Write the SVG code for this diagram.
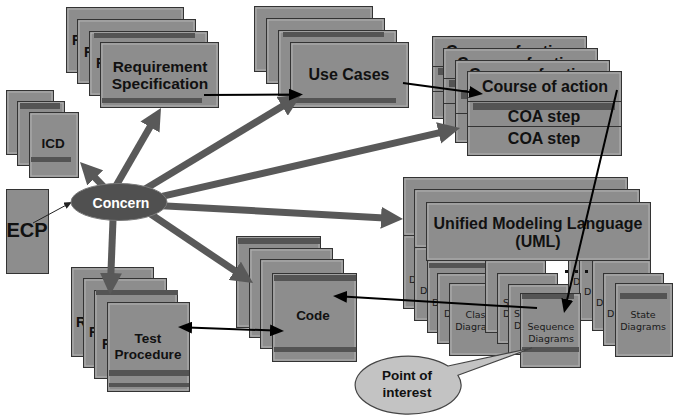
<svg xmlns="http://www.w3.org/2000/svg" width="673" height="416" viewBox="0 0 673 416">
<style>
.c{fill:#8d8d8d;stroke:#333;stroke-width:1}
.h{fill:none;stroke:#b3b3b3;stroke-width:1}
.b{fill:#545454}
.ln{stroke:#333;stroke-width:1}
.t{font-family:"Liberation Sans",Arial,sans-serif;font-weight:bold;fill:#111;text-anchor:middle}
.r{font-family:"Liberation Sans",Arial,sans-serif;font-weight:bold;font-size:14px;fill:#111}
.s{font-family:"DejaVu Sans",Verdana,sans-serif;font-size:9.5px;fill:#1a1a1a;text-anchor:middle}
.d{font-family:"DejaVu Sans",Verdana,sans-serif;font-size:9.5px;fill:#1a1a1a}
.thick{stroke:#595959;stroke-width:7;fill:none}
.thin{stroke:#000;stroke-width:2;fill:none}
.dot{fill:#111}
</style>
<defs>
<marker id="ah" markerUnits="userSpaceOnUse" markerWidth="22" markerHeight="22" viewBox="0 0 22 22" refX="8" refY="11" orient="auto"><path d="M0,0 L22,11 L0,22 z" fill="#595959"/></marker>
<marker id="sa" markerUnits="userSpaceOnUse" markerWidth="14" markerHeight="12" viewBox="0 0 14 12" refX="4" refY="6" orient="auto-start-reverse"><path d="M0,0 L14,6 L0,12 z" fill="#000"/></marker>
<marker id="sm" markerUnits="userSpaceOnUse" markerWidth="8" markerHeight="7" viewBox="0 0 8 7" refX="2" refY="3.5" orient="auto"><path d="M0,0 L8,3.5 L0,7 z" fill="#222"/></marker>
</defs>

<g id="requirement-specification">
<rect class="c" x="66.5" y="7.5" width="117" height="65"/><rect class="h" x="68" y="9" width="114" height="62"/><text class="r" x="72" y="45">R</text>
<rect class="c" x="77.5" y="19.5" width="118" height="64"/><rect class="h" x="79" y="21" width="115" height="61"/><text class="r" x="84" y="57">R</text>
<rect class="c" x="89.5" y="31.5" width="118" height="64"/><rect class="h" x="91" y="33" width="115" height="61"/><rect class="b" x="94" y="33" width="101" height="5"/><text class="r" x="96" y="68">R</text>
<rect class="c" x="100.5" y="42.5" width="118" height="65"/><rect class="h" x="102" y="44" width="115" height="62"/><rect class="b" x="102" y="98" width="100" height="5"/>
<text class="t" x="160" y="71.5" font-size="15.5">Requirement</text>
<text class="t" x="160" y="88.5" font-size="15.5">Specification</text>
</g>

<g id="use-cases">
<rect class="c" x="254.5" y="6.5" width="118" height="65"/><rect class="h" x="256" y="8" width="115" height="62"/>
<rect class="c" x="266.5" y="18.5" width="118" height="65"/><rect class="h" x="268" y="20" width="115" height="62"/>
<rect class="c" x="278.5" y="30.5" width="118" height="65"/><rect class="h" x="280" y="32" width="115" height="62"/><rect class="b" x="283" y="32" width="101" height="5"/>
<rect class="c" x="290.5" y="42.5" width="118" height="65"/><rect class="h" x="292" y="44" width="115" height="62"/><rect class="b" x="294" y="98" width="102" height="5"/>
<text class="t" x="349" y="80" font-size="16">Use Cases</text>
</g>

<g id="course-of-action">
<rect class="c" x="432.5" y="36.5" width="154" height="82"/><rect class="h" x="434" y="38" width="151" height="79"/>
<line class="ln" x1="433" y1="66.5" x2="586" y2="66.5"/><rect class="b" x="438" y="68" width="142" height="7"/><line class="ln" x1="433" y1="91.5" x2="586" y2="91.5"/>
<text class="t" x="509" y="56.5" font-size="16">Course of action</text>
<rect class="c" x="443.5" y="48.5" width="154" height="82"/><rect class="h" x="445" y="50" width="151" height="79"/>
<line class="ln" x1="444" y1="78.5" x2="597" y2="78.5"/><rect class="b" x="449" y="80" width="142" height="7"/><line class="ln" x1="444" y1="103.5" x2="597" y2="103.5"/>
<text class="t" x="520" y="68.5" font-size="16">Course of action</text>
<rect class="c" x="455.5" y="60.5" width="154" height="82"/><rect class="h" x="457" y="62" width="151" height="79"/>
<line class="ln" x1="456" y1="90.5" x2="609" y2="90.5"/><rect class="b" x="461" y="92" width="142" height="7"/><line class="ln" x1="456" y1="113.5" x2="609" y2="113.5"/>
<text class="t" x="532" y="80" font-size="16">Course of action</text>
<rect class="c" x="467.5" y="71.5" width="154" height="84"/><rect class="h" x="469" y="73" width="151" height="81"/>
<line class="ln" x1="468" y1="101.5" x2="621" y2="101.5"/><rect class="b" x="473" y="103" width="142" height="7"/><line class="ln" x1="468" y1="126.5" x2="621" y2="126.5"/>
<text class="t" x="545" y="92" font-size="16">Course of action</text>
<text class="t" x="544" y="122" font-size="16">COA step</text>
<text class="t" x="544" y="144" font-size="16">COA step</text>
</g>

<g id="icd">
<rect class="c" x="6.5" y="90.5" width="47" height="64"/><rect class="h" x="8" y="92" width="44" height="61"/>
<rect class="c" x="17.5" y="101.5" width="47" height="64"/><rect class="h" x="19" y="103" width="44" height="61"/><rect class="b" x="20" y="103" width="40" height="6"/>
<rect class="c" x="29.5" y="112.5" width="49" height="65"/><rect class="h" x="31" y="114" width="46" height="62"/><rect class="b" x="31" y="157" width="40" height="5"/>
<text class="t" x="53" y="148" font-size="13.5">ICD</text>
</g>

<g id="ecp">
<rect class="c" x="6.5" y="189.5" width="42" height="84"/>
<text class="t" x="27" y="237" font-size="20">ECP</text>
</g>

<g id="uml">
<rect class="c" x="403.5" y="177.5" width="224" height="58"/><rect class="h" x="405" y="179" width="221" height="55"/>
<rect class="c" x="403.5" y="235.5" width="61" height="73"/><rect class="h" x="405" y="237" width="58" height="70"/><text class="d" x="409" y="283">D</text>
<rect class="c" x="568.5" y="235.5" width="59" height="73"/><rect class="h" x="570" y="237" width="56" height="70"/><text class="d" x="573" y="285">D</text>
<rect class="c" x="414.5" y="189.5" width="225" height="58"/><rect class="h" x="416" y="191" width="222" height="55"/>
<rect class="c" x="414.5" y="247.5" width="61" height="73"/><rect class="h" x="416" y="249" width="58" height="70"/><text class="d" x="420" y="294">D</text>
<rect class="c" x="579.5" y="247.5" width="60" height="73"/><rect class="h" x="581" y="249" width="57" height="70"/><text class="d" x="584" y="295">D</text>
<rect class="dot" x="565" y="270" width="3" height="3"/><rect class="dot" x="575" y="270" width="3" height="3"/><rect class="dot" x="585" y="270" width="3" height="3"/>
<rect class="c" x="426.5" y="202.5" width="224" height="58"/><rect class="h" x="428" y="204" width="221" height="55"/>
<text class="t" x="538" y="229" font-size="16">Unified Modeling Language</text>
<text class="t" x="538" y="247" font-size="16">(UML)</text>
<rect class="c" x="427.5" y="260.5" width="61" height="72"/><rect class="h" x="429" y="262" width="58" height="69"/><rect class="b" x="429" y="263" width="56" height="5"/><text class="d" x="432" y="306">D</text>
<rect class="c" x="437.5" y="273.5" width="61" height="70"/><rect class="h" x="439" y="275" width="58" height="67"/><text class="d" x="444" y="317">D</text>
<rect class="c" x="449.5" y="283.5" width="61" height="72"/><rect class="h" x="451" y="285" width="58" height="69"/>
<text class="s" x="478" y="318">Class</text><text class="s" x="478" y="330">Diagrams</text>
<rect class="c" x="485.5" y="260.5" width="60" height="72"/><rect class="h" x="487" y="262" width="57" height="69"/>
<rect class="c" x="497.5" y="273.5" width="60" height="70"/><rect class="h" x="499" y="275" width="57" height="67"/><text class="d" x="503" y="306">S</text><text class="d" x="503" y="317">D</text>
<rect class="c" x="508.5" y="284.5" width="60" height="70"/><rect class="h" x="510" y="286" width="57" height="67"/><text class="d" x="514" y="317">S</text><text class="d" x="514" y="329">D</text>
<rect class="c" x="520.5" y="293.5" width="60" height="74"/><rect class="h" x="522" y="295" width="57" height="71"/><rect class="b" x="522" y="294" width="52" height="5"/><rect class="b" x="522" y="347" width="57" height="5"/>
<text class="s" x="551" y="330">Sequence</text><text class="s" x="551" y="342">Diagrams</text>
<rect class="c" x="592.5" y="260.5" width="58" height="70"/><rect class="h" x="594" y="262" width="55" height="67"/><text class="d" x="596" y="306">D</text>
<rect class="c" x="603.5" y="273.5" width="60" height="72"/><rect class="h" x="605" y="275" width="57" height="69"/><text class="d" x="607" y="317">D</text>
<rect class="c" x="615.5" y="283.5" width="57" height="73"/><rect class="h" x="617" y="285" width="54" height="70"/><rect class="b" x="620" y="293" width="47" height="6"/>
<text class="s" x="643" y="318">State</text><text class="s" x="643" y="330">Diagrams</text>
</g>

<g id="code">
<rect class="c" x="236.5" y="236.5" width="84" height="91"/><rect class="h" x="238" y="238" width="81" height="88"/><rect class="b" x="238" y="238" width="82" height="6"/>
<rect class="c" x="249.5" y="248.5" width="83" height="89"/><rect class="h" x="251" y="250" width="80" height="86"/>
<rect class="c" x="260.5" y="259.5" width="83" height="89"/><rect class="h" x="262" y="261" width="80" height="86"/>
<rect class="c" x="272.5" y="273.5" width="84" height="88"/><rect class="h" x="274" y="275" width="81" height="85"/><rect class="b" x="274" y="275" width="82" height="6"/><rect class="b" x="274" y="347" width="82" height="5"/>
<text class="t" x="313" y="320" font-size="13.5">Code</text>
</g>

<g id="test-procedure">
<rect class="c" x="71.5" y="267.5" width="82" height="89"/><rect class="h" x="73" y="269" width="79" height="86"/><text class="r" x="76" y="327">R</text>
<rect class="c" x="83.5" y="278.5" width="83" height="89"/><rect class="h" x="85" y="280" width="80" height="86"/><text class="r" x="89" y="337">R</text>
<rect class="c" x="94.5" y="290.5" width="83" height="88"/><rect class="h" x="96" y="292" width="80" height="85"/><rect class="b" x="96" y="290" width="82" height="5"/><text class="r" x="102" y="349">R</text>
<rect class="c" x="107.5" y="302.5" width="82" height="89"/><rect class="h" x="109" y="304" width="79" height="86"/><rect class="b" x="109" y="370" width="80" height="6"/><rect class="b" x="109" y="383" width="80" height="4"/>
<text class="t" x="148" y="343" font-size="13.5">Test</text>
<text class="t" x="148" y="359" font-size="13.5">Procedure</text>
</g>

<g id="point-of-interest">
<path d="M448,366 L532,348 L458,375.3 A53 29 0 1 1 448,366 Z" fill="#c3c3c3" stroke="#444" stroke-width="1.2"/>
<text class="t" x="407" y="380" font-size="13.5">Point of</text>
<text class="t" x="407" y="397" font-size="13.5">interest</text>
</g>

<g id="connectors">
<line class="thick" x1="108.9" y1="192.2" x2="89.7" y2="172.1" marker-end="url(#ah)"/>
<line class="thick" x1="112" y1="192.7" x2="154" y2="120.1" marker-end="url(#ah)"/>
<line class="thick" x1="141.4" y1="191.2" x2="289" y2="102.2" marker-end="url(#ah)"/>
<line class="thick" x1="154.3" y1="198.2" x2="446.4" y2="131.1" marker-end="url(#ah)"/>
<line class="thick" x1="157" y1="205.4" x2="389" y2="218.2" marker-end="url(#ah)"/>
<line class="thick" x1="143.7" y1="209.4" x2="241.4" y2="275.2" marker-end="url(#ah)"/>
<line class="thick" x1="113.4" y1="210" x2="110.6" y2="281" marker-end="url(#ah)"/>
<line class="thin" stroke-width="1.6" x1="204" y1="95" x2="293" y2="94.6" marker-end="url(#sa)"/>
<line class="thin" x1="403" y1="83" x2="473.1" y2="92.6" marker-end="url(#sa)"/>
<line class="thin" x1="617" y1="90" x2="566.3" y2="303.3" marker-end="url(#sa)"/>
<line class="thin" x1="537" y1="308" x2="343" y2="296.6" marker-end="url(#sa)"/>
<line class="thin" x1="188" y1="327.4" x2="274" y2="330.6" marker-start="url(#sa)" marker-end="url(#sa)"/>
<line stroke="#222" stroke-width="1" x1="33" y1="223" x2="66.7" y2="204.8" marker-end="url(#sm)"/>
</g>

<g id="concern">
<ellipse cx="119" cy="202" rx="48" ry="18.5" fill="#505050" stroke="#7a7a7a" stroke-width="1"/>
<text class="t" x="121" y="208" font-size="14" style="fill:#fff">Concern</text>
</g>
</svg>
